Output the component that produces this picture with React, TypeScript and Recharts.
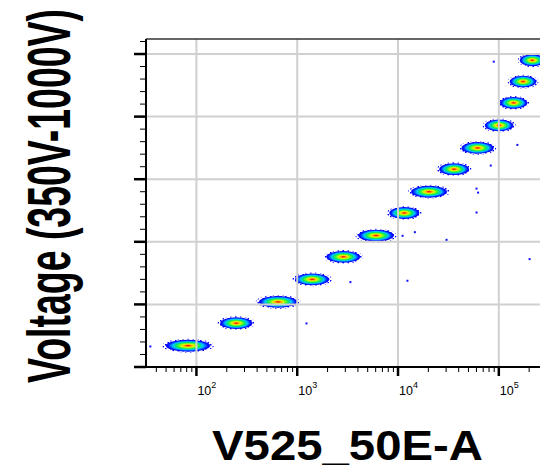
import React from "react";
import { ScatterChart, Scatter, XAxis, YAxis, ReferenceArea, ReferenceLine } from "recharts";

// voltage steps, one cluster per step
const voltages = [350, 400, 450, 500, 550, 600, 650, 700, 750, 800, 850, 900, 950, 1000];
// cluster extent on the V525_50E-A axis (low / high edge of the event cloud)
const clusterLow = [45.7, 162, 387, 893, 1820, 3770, 7740, 12600, 24200, 40200, 68900, 97500, 122000, 154000];
const clusterHigh = [149, 381, 1079, 2218, 4520, 9720, 17200, 32700, 53600, 94600, 147000, 202000, 248000, 300000];
// cluster position on the vertical axis
const clusterY = [17, 35, 52, 70, 88, 105, 123, 140, 158, 175, 193, 211, 228, 245];
const CLUSTER_HALF = 5.5;

// stray events outside the clusters
const strayX = [89100, 152800, 83200, 60100, 62300, 60100, 11100, 14700, 30300, 202000, 3370, 12400, 1236, 34.9];
const strayY = [243.9, 177.4, 160.9, 142.5, 139.3, 123.4, 104.8, 107.7, 101.6, 86.2, 67.8, 68.9, 34.8, 16.4];

const xDomain = [31.6, 262144];
const yDomain = [0, 262];
const xMajor = [100, 1000, 10000, 100000];
const xTicks = [40, 50, 60, 70, 80, 90, 100, 200, 300, 400, 500, 600, 700, 800, 900, 1000,
  2000, 3000, 4000, 5000, 6000, 7000, 8000, 9000, 10000, 20000, 30000, 40000, 50000, 60000,
  70000, 80000, 90000, 100000, 200000];
const yMajor = [50, 100, 150, 200, 250];
const yTicks = [0, 10, 20, 30, 40, 50, 60, 70, 80, 90, 100, 110, 120, 130, 140, 150, 160, 170,
  180, 190, 200, 210, 220, 230, 240, 250, 260];

const strayPoints = strayX.map((x, i) => ({ x, y: strayY[i] }));

const FONT = "'Liberation Sans', Arial, Helvetica, sans-serif";

function XTick(props: any) {
  const { x, y, payload } = props;
  const v = payload.value;
  const major = xMajor.includes(v);
  return (
    <g>
      <line x1={x} x2={x} y1={y} y2={y + (major ? 9 : 5)} stroke="#000" strokeWidth={major ? 2.5 : 1} />
      {major && (
        <text x={x + 1} y={y + 28} fontFamily={FONT} fontSize={12.5} fill="#000">
          10
          <tspan dy={-7} fontSize={9}>{Math.round(Math.log10(v))}</tspan>
        </text>
      )}
    </g>
  );
}

function YTick(props: any) {
  const { x, y, payload } = props;
  const major = yMajor.includes(payload.value) || payload.value === 0;
  return <line x1={x} x2={x - (major ? 12 : 6)} y1={y} y2={y} stroke="#000" strokeWidth={major ? 2.5 : 1} />;
}

function XTitle(props: any) {
  const { viewBox } = props;
  const cx = viewBox.x + viewBox.width / 2 + 4;
  return (
    <text x={cx} y={viewBox.y + 93} textAnchor="middle" fontFamily={FONT} fontWeight="bold"
      fontSize={42} textLength={271} lengthAdjust="spacingAndGlyphs" fill="#000">
      V525_50E-A
    </text>
  );
}

function YTitle(props: any) {
  const { viewBox } = props;
  const bx = viewBox.x + 70;
  const cy = viewBox.y + viewBox.height / 2 - 7;
  return (
    <text x={bx} y={cy} transform={`rotate(-90 ${bx} ${cy})`} textAnchor="middle" fontFamily={FONT}
      fontWeight="bold" fontSize={61} textLength={374} lengthAdjust="spacingAndGlyphs" fill="#000">
      Voltage (350V-1000V)
    </text>
  );
}

function Blob(props: any) {
  const { x, y, width, height, idx } = props;
  if (width == null || height == null) return null;
  const cx = x + width / 2;
  const cy = y + height / 2;
  const g = `dens-${idx}`;
  const p = `spk-${idx}`;
  return (
    <g>
      <defs>
        <radialGradient id={g}>
          <stop offset="0" stopColor="#e00000" />
          <stop offset="0.08" stopColor="#ff4000" />
          <stop offset="0.18" stopColor="#ffb000" />
          <stop offset="0.28" stopColor="#e8f000" />
          <stop offset="0.4" stopColor="#60ff20" />
          <stop offset="0.55" stopColor="#00e070" />
          <stop offset="0.68" stopColor="#00c8ff" />
          <stop offset="0.8" stopColor="#0060ff" />
          <stop offset="0.92" stopColor="#0000ff" />
          <stop offset="1" stopColor="#0000ff" stopOpacity={0.85} />
        </radialGradient>
        <pattern id={p} width={5} height={4} patternUnits="userSpaceOnUse">
          <rect x={0} y={0} width={1.5} height={1.5} fill="#0000ff" />
          <rect x={2.5} y={2} width={1.5} height={1.5} fill="#0000ff" />
        </pattern>
      </defs>
      <ellipse cx={cx} cy={cy} rx={width / 2} ry={height / 2} fill={`url(#${p})`} />
      <ellipse cx={cx} cy={cy} rx={width * 0.43} ry={height * 0.43} fill={`url(#${g})`} />
    </g>
  );
}

export default function App() {
  return (
    <div style={{ position: "absolute", left: 0, top: 0, width: 540, height: 465, overflow: "hidden", background: "#fff" }}>
      <ScatterChart width={548} height={465} margin={{ top: 39, right: 7, bottom: 0, left: 0 }}>
        <XAxis dataKey="x" type="number" scale="log" domain={xDomain} allowDataOverflow ticks={xTicks}
          interval={0} tickLine={false} tickSize={0} tickMargin={0} tick={<XTick />}
          axisLine={{ stroke: "#000", strokeWidth: 2 }} height={98} label={<XTitle />} />
        <YAxis dataKey="y" type="number" domain={yDomain} allowDataOverflow ticks={yTicks}
          interval={0} tickLine={false} tickSize={0} tickMargin={0} tick={<YTick />}
          axisLine={{ stroke: "#000", strokeWidth: 2 }} width={146} label={<YTitle />} />
        {xMajor.map((v) => (
          <ReferenceLine key={`gx${v}`} x={v} stroke="#d0d0d0" strokeWidth={2} />
        ))}
        {yMajor.map((v) => (
          <ReferenceLine key={`gy${v}`} y={v} stroke="#d0d0d0" strokeWidth={2} />
        ))}
        <ReferenceLine y={yDomain[1]} stroke="#333" strokeWidth={1.5} />
        {voltages.map((v, i) => (
          <ReferenceArea key={v} x1={clusterLow[i]} x2={clusterHigh[i]} y1={clusterY[i] - CLUSTER_HALF}
            y2={clusterY[i] + CLUSTER_HALF} ifOverflow="hidden" shape={(p: any) => <Blob {...p} idx={i} />} />
        ))}
        <Scatter data={strayPoints} isAnimationActive={false}
          shape={(p: any) => <rect x={p.cx - 1} y={p.cy - 1} width={2} height={2} fill="#1010ff" />} />
      </ScatterChart>
    </div>
  );
}
